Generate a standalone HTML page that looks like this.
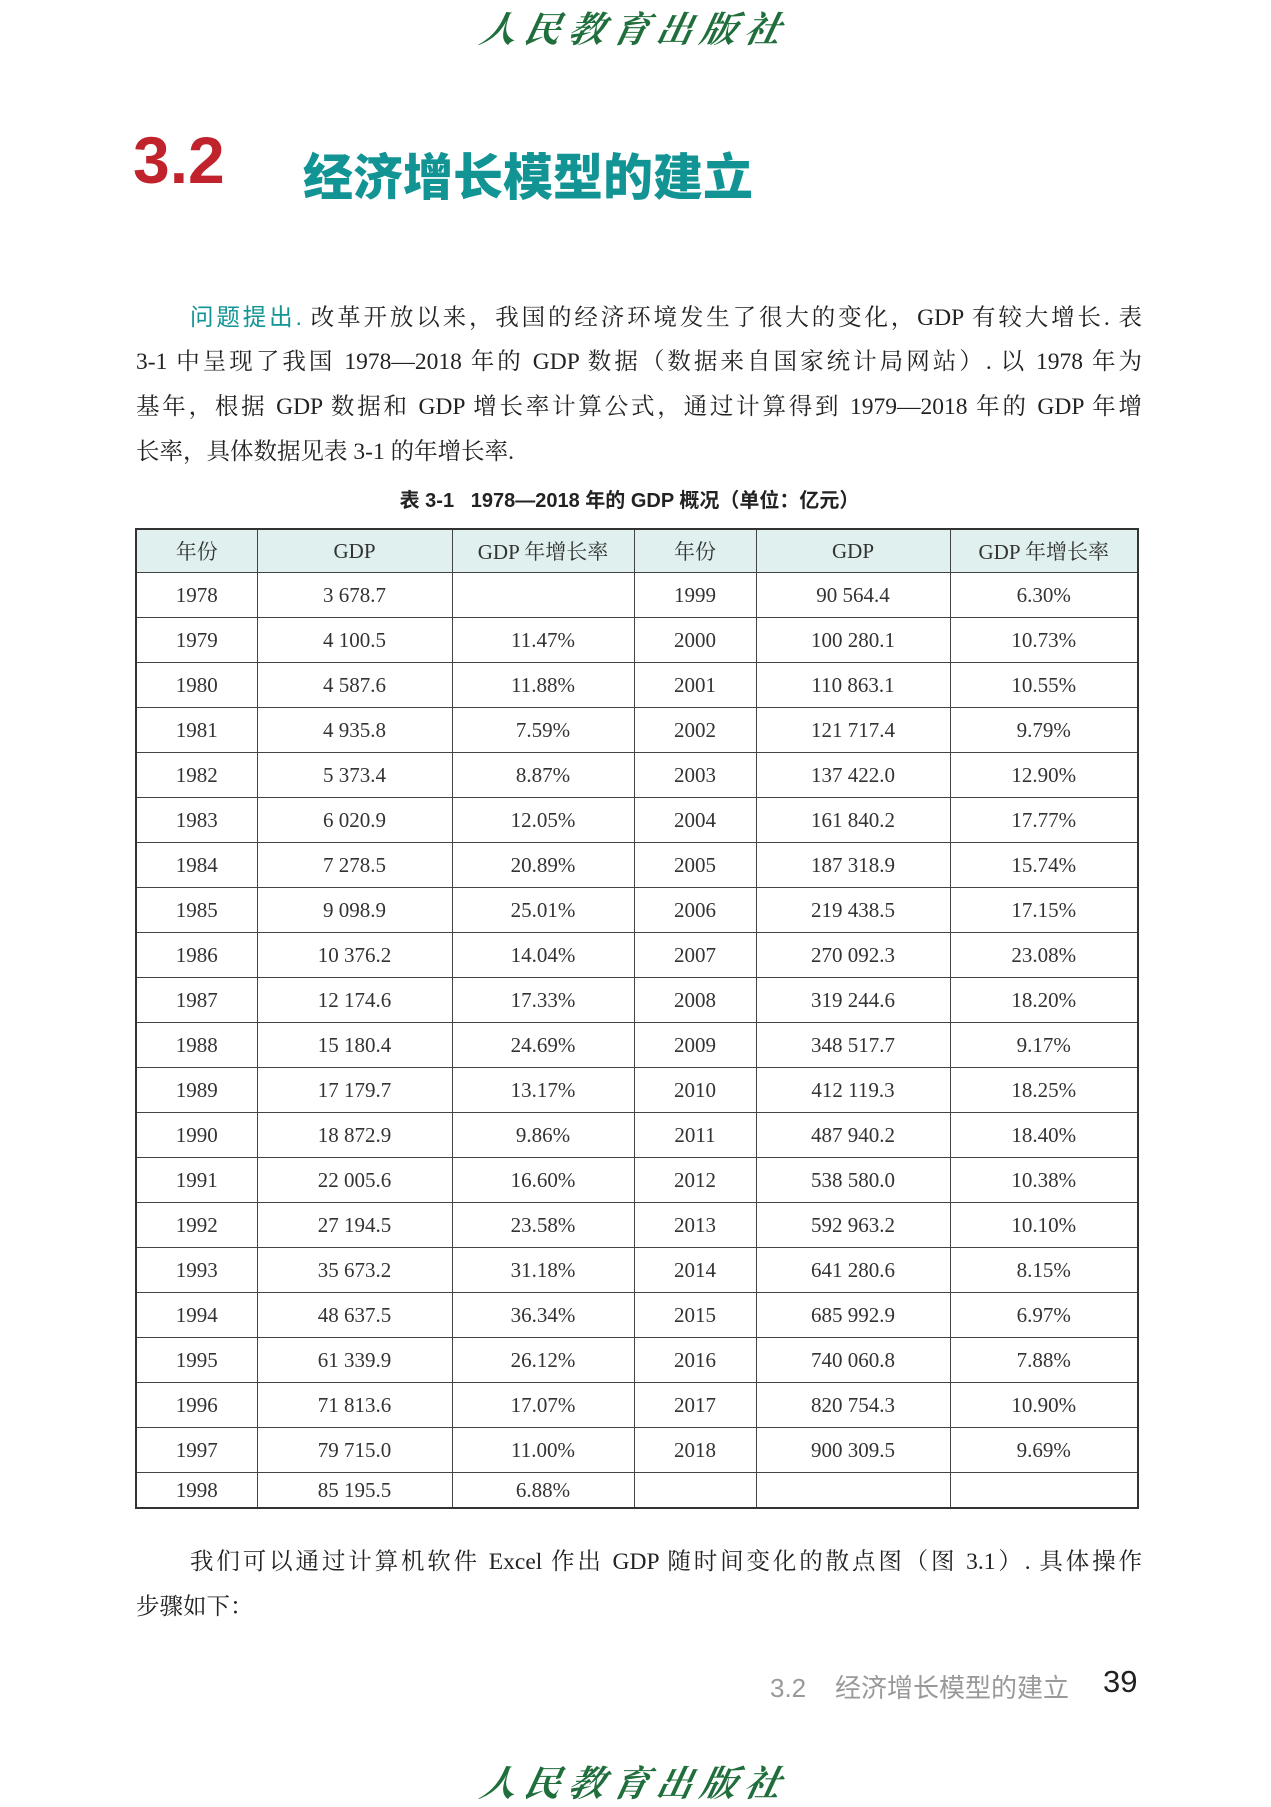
<!DOCTYPE html>
<html><head><meta charset="utf-8">
<style>
html,body{margin:0;padding:0;background:#fff;}
body{width:1271px;height:1800px;position:relative;overflow:hidden;font-family:"Liberation Serif","Noto Serif CJK SC",serif;color:#222;}
.abs{position:absolute;}
.logo{left:0;width:1271px;text-align:center;color:#1f6e3c;font-family:"Liberation Serif","Noto Serif CJK SC",serif;font-style:italic;font-weight:bold;font-size:36px;letter-spacing:8px;transform:skewX(-12deg);}
.para{left:136px;width:1006px;font-size:23.5px;line-height:45px;text-align:justify;text-align-last:justify;color:#222;white-space:nowrap;}
table{border-collapse:collapse;table-layout:fixed;}
td{border:1px solid #444;text-align:center;vertical-align:middle;font-size:21px;color:#333;height:44px;padding:0;font-family:"Liberation Serif","Noto Serif CJK SC",serif;}
tr.hd td{background:#dff0ef;height:42px;font-size:21px;}
</style></head><body>
<div class="abs logo" style="top:2px;">人民教育出版社</div>
<div class="abs" style="left:133px;top:122px;font-family:'Liberation Sans',sans-serif;font-weight:bold;font-size:66px;color:#c0232b;">3.2</div>
<div class="abs" style="left:303px;top:138px;font-family:'Liberation Sans','Noto Sans CJK SC',sans-serif;font-weight:900;font-size:50px;letter-spacing:0px;color:#129495;">经济增长模型的建立</div>

<div class="abs para" style="top:295px;left:190px;width:952px;"><span style="color:#129495;font-family:'Liberation Sans','Noto Sans CJK SC',sans-serif;">问题提出.</span> 改革开放以来，我国的经济环境发生了很大的变化，GDP 有较大增长. 表</div>
<div class="abs para" style="top:340px;">3-1 中呈现了我国 1978—2018 年的 GDP 数据（数据来自国家统计局网站）. 以 1978 年为</div>
<div class="abs para" style="top:385px;">基年，根据 GDP 数据和 GDP 增长率计算公式，通过计算得到 1979—2018 年的 GDP 年增</div>
<div class="abs para" style="top:430px;text-align-last:left;width:auto;">长率，具体数据见表 3-1 的年增长率.</div>

<div class="abs" style="left:-6px;width:1271px;text-align:center;top:484px;font-size:20px;font-weight:bold;font-family:'Liberation Sans','Noto Sans CJK SC',sans-serif;">表 3-1&nbsp;&nbsp;&nbsp;1978—2018 年的 GDP 概况（单位：亿元）</div>

<table class="abs" id="tbl" style="left:135px;top:528px;width:1002px;border:2px solid #333;">
<colgroup><col style="width:121px"><col style="width:195px"><col style="width:182px"><col style="width:122px"><col style="width:194px"><col style="width:188px"></colgroup>
<tbody id="tb">
<tr class="hd"><td>年份</td><td>GDP</td><td>GDP 年增长率</td><td>年份</td><td>GDP</td><td>GDP 年增长率</td></tr>
</tbody></table>

<div class="abs para" style="top:1540px;left:190px;width:952px;">我们可以通过计算机软件 Excel 作出 GDP 随时间变化的散点图（图 3.1）. 具体操作</div>
<div class="abs para" style="top:1585px;text-align-last:left;width:auto;">步骤如下：</div>

<div class="abs" style="left:770px;top:1668px;font-size:26px;color:#999;font-family:'Liberation Sans','Noto Sans CJK SC',sans-serif;">3.2&nbsp;&nbsp;&nbsp;&nbsp;经济增长模型的建立</div>
<div class="abs" style="left:1103px;top:1664px;font-size:31px;color:#222;font-family:'Liberation Sans',sans-serif;">39</div>
<div class="abs logo" style="top:1756px;">人民教育出版社</div>

<script>
const years1=["1978","1979","1980","1981","1982","1983","1984","1985","1986","1987","1988","1989","1990","1991","1992","1993","1994","1995","1996","1997","1998"];
const gdp1=["3 678.7","4 100.5","4 587.6","4 935.8","5 373.4","6 020.9","7 278.5","9 098.9","10 376.2","12 174.6","15 180.4","17 179.7","18 872.9","22 005.6","27 194.5","35 673.2","48 637.5","61 339.9","71 813.6","79 715.0","85 195.5"];
const rate1=["","11.47%","11.88%","7.59%","8.87%","12.05%","20.89%","25.01%","14.04%","17.33%","24.69%","13.17%","9.86%","16.60%","23.58%","31.18%","36.34%","26.12%","17.07%","11.00%","6.88%"];
const years2=["1999","2000","2001","2002","2003","2004","2005","2006","2007","2008","2009","2010","2011","2012","2013","2014","2015","2016","2017","2018",""];
const gdp2=["90 564.4","100 280.1","110 863.1","121 717.4","137 422.0","161 840.2","187 318.9","219 438.5","270 092.3","319 244.6","348 517.7","412 119.3","487 940.2","538 580.0","592 963.2","641 280.6","685 992.9","740 060.8","820 754.3","900 309.5",""];
const rate2=["6.30%","10.73%","10.55%","9.79%","12.90%","17.77%","15.74%","17.15%","23.08%","18.20%","9.17%","18.25%","18.40%","10.38%","10.10%","8.15%","6.97%","7.88%","10.90%","9.69%",""];
const tb=document.getElementById('tb');
for(let i=0;i<years1.length;i++){
  const tr=document.createElement('tr');
  
  
  if(i===years1.length-1) tr.style.height='35px';
  [years1[i],gdp1[i],rate1[i],years2[i],gdp2[i],rate2[i]].forEach(v=>{
    const td=document.createElement('td');
    
    
    td.textContent=v;
    if(i===years1.length-1) td.style.height='34px';
    tr.appendChild(td);
  });
  tb.appendChild(tr);
}
</script>
</body></html>
